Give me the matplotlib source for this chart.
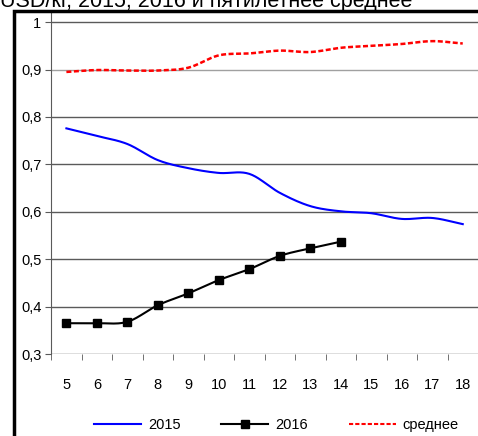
import numpy as np
import matplotlib
matplotlib.use("Agg")
import matplotlib.pyplot as plt
from matplotlib.patches import Rectangle

plt.rcParams['font.family'] = ['Liberation Sans Narrow', 'Liberation Sans', 'DejaVu Sans']

# Données (USD/kg)
semaines = [5, 6, 7, 8, 9, 10, 11, 12, 13, 14, 15, 16, 17, 18]
prix_2015 = [0.776, 0.760, 0.743, 0.709, 0.692, 0.682, 0.680, 0.640, 0.612, 0.601, 0.597, 0.585, 0.587, 0.574]
semaines_2016 = [5, 6, 7, 8, 9, 10, 11, 12, 13, 14]
prix_2016 = [0.365, 0.365, 0.368, 0.403, 0.428, 0.456, 0.479, 0.507, 0.523, 0.537]
prix_moyen = [0.895, 0.899, 0.898, 0.898, 0.904, 0.930, 0.934, 0.940, 0.937, 0.946, 0.950, 0.954, 0.960, 0.955]
titre = "USD/кг, 2015, 2016 и пятилетнее среднее"
y_ticks = [0.3, 0.4, 0.5, 0.6, 0.7, 0.8, 0.9, 1.0]
y_labels = ["0,3", "0,4", "0,5", "0,6", "0,7", "0,8", "0,9", "1"]


# Lissage type Excel (Catmull-Rom)
def lisser(x, y, n=20):
    x = np.asarray(x, float)
    y = np.asarray(y, float)
    px = np.concatenate([[2 * x[0] - x[1]], x, [2 * x[-1] - x[-2]]])
    py = np.concatenate([[2 * y[0] - y[1]], y, [2 * y[-1] - y[-2]]])
    xs, ys = [], []
    t = np.linspace(0, 1, n, endpoint=False)
    for i in range(1, len(px) - 2):
        for p, out in ((px, xs), (py, ys)):
            p0, p1, p2, p3 = p[i - 1], p[i], p[i + 1], p[i + 2]
            out.extend(0.5 * (2 * p1 + (-p0 + p2) * t + (2 * p0 - 5 * p1 + 4 * p2 - p3) * t ** 2
                              + (-p0 + 3 * p1 - 3 * p2 + p3) * t ** 3))
    xs.append(x[-1])
    ys.append(y[-1])
    return np.array(xs), np.array(ys)


fig = plt.figure(figsize=(4.78, 4.36), dpi=100)
ax = fig.add_axes([0.107, 0.188, 0.893, 0.784])

# Grille horizontale
for v in y_ticks:
    ax.axhline(v, color="#5a5a5a" if v != 0.9 else "#a0a0a0", lw=1, zorder=1)

x1, y1 = lisser(semaines, prix_2015)
ax.plot(x1, y1, color="#0000ff", lw=1.5, zorder=3)
x2, y2 = lisser(semaines_2016, prix_2016)
ax.plot(x2, y2, color="black", lw=1.5, zorder=3)
ax.plot(semaines_2016, prix_2016, ls="none", marker="s", ms=5.5, color="black", zorder=4)
x3, y3 = lisser(semaines, prix_moyen)
ax.plot(x3, y3, color="#ff0000", lw=1.8, ls=(0, (2, 1)), zorder=3)

# Entrées de légende
ax.plot([], [], color="#0000ff", lw=1.5, label="2015")
ax.plot([], [], color="black", lw=1.5, marker="s", ms=5.5, label="2016")
ax.plot([], [], color="#ff0000", lw=1.5, ls=(0, (2, 1)), label="среднее")

ax.set_xlim(4.5, 18.5)
ax.set_ylim(0.3, 1.021)
ax.set_yticks(y_ticks)
ax.set_yticklabels(y_labels)
ax.set_xticks(semaines)
ax.set_xticks(np.arange(4.5, 19, 1), minor=True)
ax.tick_params(axis="x", which="major", length=0, pad=17, labelsize=10.5)
ax.tick_params(axis="x", which="minor", length=4, color="#5a5a5a", direction="out")
ax.tick_params(axis="y", length=4, color="#5a5a5a", labelsize=10.5, pad=3)

for s in ["top", "right", "bottom"]:
    ax.spines[s].set_visible(False)
ax.spines["left"].set_color("#5a5a5a")

leg = ax.legend(loc="center", bbox_to_anchor=(0.528, -0.207), ncol=3, frameon=False,
                fontsize=10.5, handlelength=3.2, columnspacing=2.8, handletextpad=0.5)

# Cadre noir et titre coupé
fig.patches.append(Rectangle((14 / 478, -0.1), 1.2, 1 - 11 / 436 + 0.1, transform=fig.transFigure,
                             fill=False, ec="black", lw=2.5, zorder=10))
fig.text(0.0, 1 - 7 / 436, titre, fontsize=15.5, va="baseline", ha="left",
         family=["Liberation Sans", "DejaVu Sans"])

fig.savefig("out.png", dpi=100)
